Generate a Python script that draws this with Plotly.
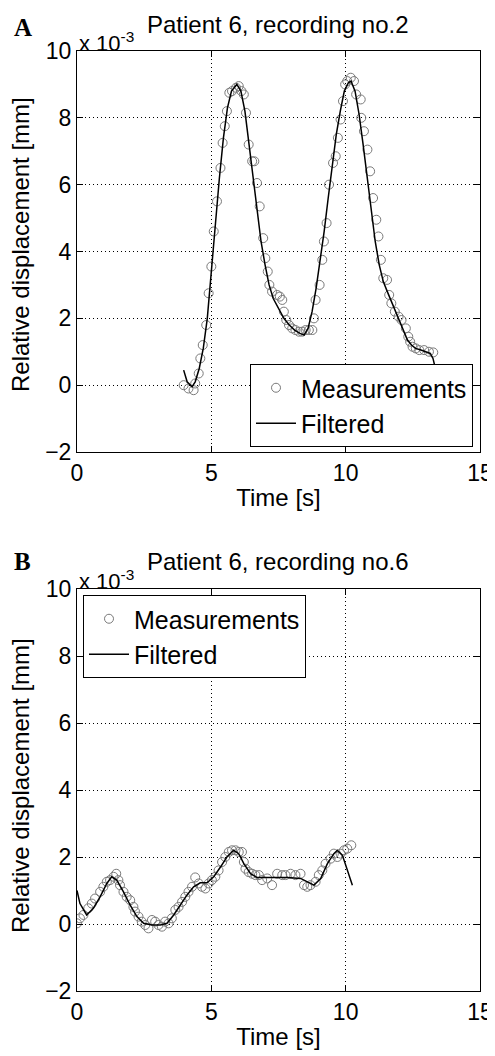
import plotly.graph_objects as go

# ---------------- Panel A data (Patient 6, recording no.2) ----------------
a_meas_t = [3.97, 4.15, 4.34, 4.40, 4.53, 4.59, 4.68, 4.81, 4.90, 5.00, 5.09, 5.21, 5.34, 5.42, 5.50,
            5.58, 5.67, 5.77, 5.92, 6.02, 6.12, 6.21, 6.29, 6.39, 6.52, 6.60, 6.70, 6.80, 6.93, 7.01,
            7.10, 7.16, 7.26, 7.45, 7.55, 7.64, 7.70, 7.79, 7.89, 8.01, 8.13, 8.26, 8.38, 8.51, 8.63,
            8.76, 8.82, 8.88, 9.03, 9.13, 9.19, 9.29, 9.38, 9.53, 9.63, 9.71, 9.81, 9.90, 9.98, 10.06,
            10.19, 10.31, 10.39, 10.56, 10.58, 10.68, 10.81, 10.91, 11.02, 11.14, 11.22, 11.31, 11.40,
            11.54, 11.62, 11.70, 11.83, 11.97, 12.08, 12.24, 12.33, 12.40, 12.49, 12.61, 12.74, 12.92,
            13.10, 13.26]
a_meas_v = [0.00, -0.10, -0.15, 0.05, 0.35, 0.80, 1.20, 1.80, 2.75, 3.55, 4.60, 5.50, 6.50, 7.25, 7.75,
            8.20, 8.75, 8.80, 8.90, 8.95, 8.80, 8.70, 8.15, 7.20, 6.70, 6.70, 6.05, 5.35, 4.40, 3.80,
            3.40, 3.00, 2.80, 2.70, 2.65, 2.55, 2.20, 1.95, 1.80, 1.70, 1.65, 1.60, 1.60, 1.65, 1.65,
            1.65, 2.00, 2.55, 3.00, 3.75, 4.30, 4.85, 6.00, 6.65, 6.85, 7.40, 7.95, 8.50, 9.00, 9.10,
            9.20, 9.10, 8.70, 8.55, 8.00, 7.60, 7.05, 6.40, 5.60, 4.95, 4.45, 3.75, 3.20,
            3.15, 2.70, 2.45, 2.20, 2.05, 1.95, 1.70, 1.45, 1.30, 1.15, 1.10, 1.05, 1.05,
            1.00, 0.98]
a_filt_t = [3.97, 4.10, 4.28, 4.40, 4.55, 4.70, 4.85, 5.00, 5.15, 5.30, 5.45, 5.60, 5.75, 5.95, 6.10,
            6.25, 6.40, 6.55, 6.70, 6.85, 7.00, 7.15, 7.30, 7.50, 7.70, 7.90, 8.10, 8.30, 8.45, 8.60,
            8.75, 8.90, 9.05, 9.20, 9.35, 9.50, 9.65, 9.80, 9.95, 10.10, 10.20, 10.35, 10.50, 10.65,
            10.80, 10.95, 11.10, 11.25, 11.40, 11.55, 11.70, 11.85, 12.00, 12.15, 12.30, 12.45, 12.60,
            12.80, 13.00, 13.15, 13.25, 13.34]
a_filt_v = [0.45, 0.10, -0.05, 0.10, 0.50, 1.10, 2.00, 3.30, 4.80, 6.20, 7.40, 8.30, 8.80, 9.00, 8.80,
            8.20, 7.20, 6.20, 5.20, 4.30, 3.60, 3.00, 2.60, 2.30, 2.00, 1.80, 1.65, 1.55, 1.50, 1.70,
            2.20, 2.90, 3.70, 4.60, 5.60, 6.60, 7.50, 8.20, 8.80, 9.05, 9.10, 8.80, 8.10, 7.20,
            6.20, 5.20, 4.30, 3.60, 3.10, 2.80, 2.50, 2.20, 1.90, 1.60, 1.35, 1.20, 1.10,
            1.05, 1.00, 0.95, 0.80, 0.50]

# ---------------- Panel B data (Patient 6, recording no.6) ----------------
b_meas_t = [0.00, 0.11, 0.24, 0.42, 0.55, 0.67, 0.86, 0.98, 1.11, 1.23, 1.36, 1.46, 1.54, 1.60, 1.73,
            1.85, 1.98, 2.10, 2.16, 2.29, 2.41, 2.54, 2.66, 2.79, 2.91, 3.03, 3.16, 3.28, 3.41, 3.53,
            3.66, 3.78, 3.91, 4.03, 4.15, 4.28, 4.40, 4.53, 4.65, 4.78, 4.90, 5.02, 5.15, 5.27, 5.40,
            5.52, 5.65, 5.77, 5.90, 6.02, 6.14, 6.21, 6.27, 6.39, 6.52, 6.64, 6.77, 6.89, 7.08, 7.26,
            7.45, 7.64, 7.76, 7.95, 8.13, 8.32, 8.45, 8.57, 8.69, 8.88, 9.00, 9.13, 9.25, 9.44, 9.56,
            9.69, 9.81, 9.94, 10.06, 10.21]
b_meas_v = [0.02, 0.17, 0.27, 0.47, 0.61, 0.76, 0.96, 1.11, 1.26, 1.31, 1.41, 1.50, 1.31, 1.16, 0.96,
            0.81, 0.71, 0.51, 0.37, 0.22, 0.07, -0.03, -0.13, 0.12, 0.07, -0.03, -0.08, 0.07, 0.02, 0.17,
            0.42, 0.51, 0.66, 0.81, 0.96, 1.11, 1.39, 1.21, 1.11, 1.06, 1.21, 1.31, 1.41, 1.60, 1.85,
            2.00, 2.15, 2.20, 2.20, 2.15, 2.15, 1.85, 1.65, 1.55, 1.50, 1.46, 1.46, 1.31, 1.36, 1.16,
            1.50, 1.46, 1.46, 1.50, 1.46, 1.50, 1.16, 1.11, 1.16, 1.26, 1.46, 1.60, 1.80, 1.95, 2.10,
            2.00, 2.10, 2.20, 2.25, 2.35]
b_filt_t = [0.00, 0.11, 0.36, 0.61, 0.86, 1.11, 1.29, 1.48, 1.73, 1.98, 2.23, 2.48, 2.79, 3.10, 3.35,
            3.60, 3.84, 4.09, 4.34, 4.59, 4.84, 5.09, 5.34, 5.58, 5.83, 6.02, 6.21, 6.46, 6.70, 7.20,
            7.82, 8.32, 8.57, 8.82, 9.07, 9.32, 9.56, 9.69, 9.88, 10.06, 10.25]
b_filt_v = [1.00, 0.61, 0.27, 0.47, 0.81, 1.21, 1.41, 1.31, 0.96, 0.56, 0.22, 0.02, -0.03, -0.03, 0.02,
            0.27, 0.56, 0.86, 1.11, 1.23, 1.23, 1.41, 1.70, 2.00, 2.20, 2.10, 1.80, 1.50, 1.39, 1.39,
            1.39, 1.36, 1.26, 1.16, 1.36, 1.80, 2.10, 2.20, 2.05, 1.60, 1.16]

x_ticks = [0, 5, 10, 15]
y_ticks = [-2, 0, 2, 4, 6, 8, 10]
titles = ["Patient 6, recording no.2", "Patient 6, recording no.6"]
panel_letters = ["A", "B"]
legend_names = ["Measurements", "Filtered"]
x_title = "Time [s]"
y_title = "Relative displacement [mm]"

# The page body has an 8px margin; size the figure so it fits the 495x1056 window exactly.
OFF = 8
W, H = 495 - OFF, 1056 - OFF
FONT = "Liberation Sans, Arial, Helvetica, sans-serif"
MEAS_COLOR = "#7a7a7a"

def px_x(p):
    return (p - OFF) / W

def px_y(p):
    return 1 - (p - OFF) / H

fig = go.Figure()

# Panel A traces
fig.add_trace(go.Scatter(x=a_meas_t, y=a_meas_v, mode="markers", name=legend_names[0],
                         marker=dict(symbol="circle-open", size=9, color=MEAS_COLOR, line=dict(width=1)),
                         xaxis="x", yaxis="y", legend="legend"))
fig.add_trace(go.Scatter(x=a_filt_t, y=a_filt_v, mode="lines", name=legend_names[1],
                         line=dict(color="black", width=1.5),
                         xaxis="x", yaxis="y", legend="legend"))
# Panel B traces
fig.add_trace(go.Scatter(x=b_meas_t, y=b_meas_v, mode="markers", name=legend_names[0],
                         marker=dict(symbol="circle-open", size=9, color=MEAS_COLOR, line=dict(width=1)),
                         xaxis="x2", yaxis="y2", legend="legend2"))
fig.add_trace(go.Scatter(x=b_filt_t, y=b_filt_v, mode="lines", name=legend_names[1],
                         line=dict(color="black", width=1.5),
                         xaxis="x2", yaxis="y2", legend="legend2"))

xdom = [px_x(77), px_x(480)]
ydomA = [px_y(452), px_y(51)]
ydomB = [px_y(991), px_y(589)]

common_axis = dict(
    showline=True, linecolor="black", linewidth=1, mirror="allticks",
    ticks="inside", ticklen=6, tickcolor="black", tickwidth=1,
    showgrid=True, gridcolor="black", gridwidth=1, griddash="1px,3px",
    zeroline=False, automargin=False,
    tickfont=dict(family=FONT, size=23, color="black"),
)

def xaxis_cfg(anchor, dom):
    return dict(common_axis, range=[0, 15], tickvals=x_ticks, domain=dom, anchor=anchor,
                title=dict(text=x_title, font=dict(family=FONT, size=24, color="black"), standoff=4))

def yaxis_cfg(anchor, dom):
    return dict(common_axis, range=[-2, 10], tickvals=y_ticks, domain=dom, anchor=anchor)

legend_common = dict(bgcolor="white", bordercolor="black", borderwidth=1,
                     font=dict(family=FONT, size=25, color="black"),
                     itemwidth=40, tracegroupgap=0)

fig.update_layout(
    width=W, height=H,
    margin=dict(l=0, r=0, t=0, b=0),
    paper_bgcolor="white", plot_bgcolor="white",
    showlegend=True,
    xaxis=xaxis_cfg("y", xdom),
    yaxis=yaxis_cfg("x", ydomA),
    xaxis2=xaxis_cfg("y2", xdom),
    yaxis2=yaxis_cfg("x2", ydomB),
    legend=dict(legend_common, x=px_x(473), y=px_y(447), xanchor="right", yanchor="bottom"),
    legend2=dict(legend_common, x=px_x(83), y=px_y(595), xanchor="left", yanchor="top"),
)

annotations = []
for letter, title, ytitle, yexp, yletter, ymid in [
    (panel_letters[0], titles[0], 24, 42, 28, 245),
    (panel_letters[1], titles[1], 561, 580, 561, 786),
]:
    annotations.append(dict(text=f"<b>{letter}</b>", x=px_x(12), y=px_y(yletter), xref="paper", yref="paper",
                            xanchor="left", yanchor="middle", showarrow=False,
                            font=dict(family="Liberation Serif, Times New Roman, serif", size=25, color="black")))
    annotations.append(dict(text="x 10<sup>-3</sup>", x=px_x(77), y=px_y(yexp), xref="paper", yref="paper",
                            xanchor="left", yanchor="middle", showarrow=False,
                            font=dict(family=FONT, size=22, color="black")))
    annotations.append(dict(text=title, x=px_x(145), y=px_y(ytitle), xref="paper", yref="paper",
                            xanchor="left", yanchor="middle", showarrow=False,
                            font=dict(family=FONT, size=24, color="black")))
    annotations.append(dict(text=y_title, x=px_x(20), y=px_y(ymid), xref="paper", yref="paper",
                            xanchor="center", yanchor="middle", textangle=-90, showarrow=False,
                            font=dict(family=FONT, size=24, color="black")))
fig.update_layout(annotations=annotations)

fig.write_html("out.html")
